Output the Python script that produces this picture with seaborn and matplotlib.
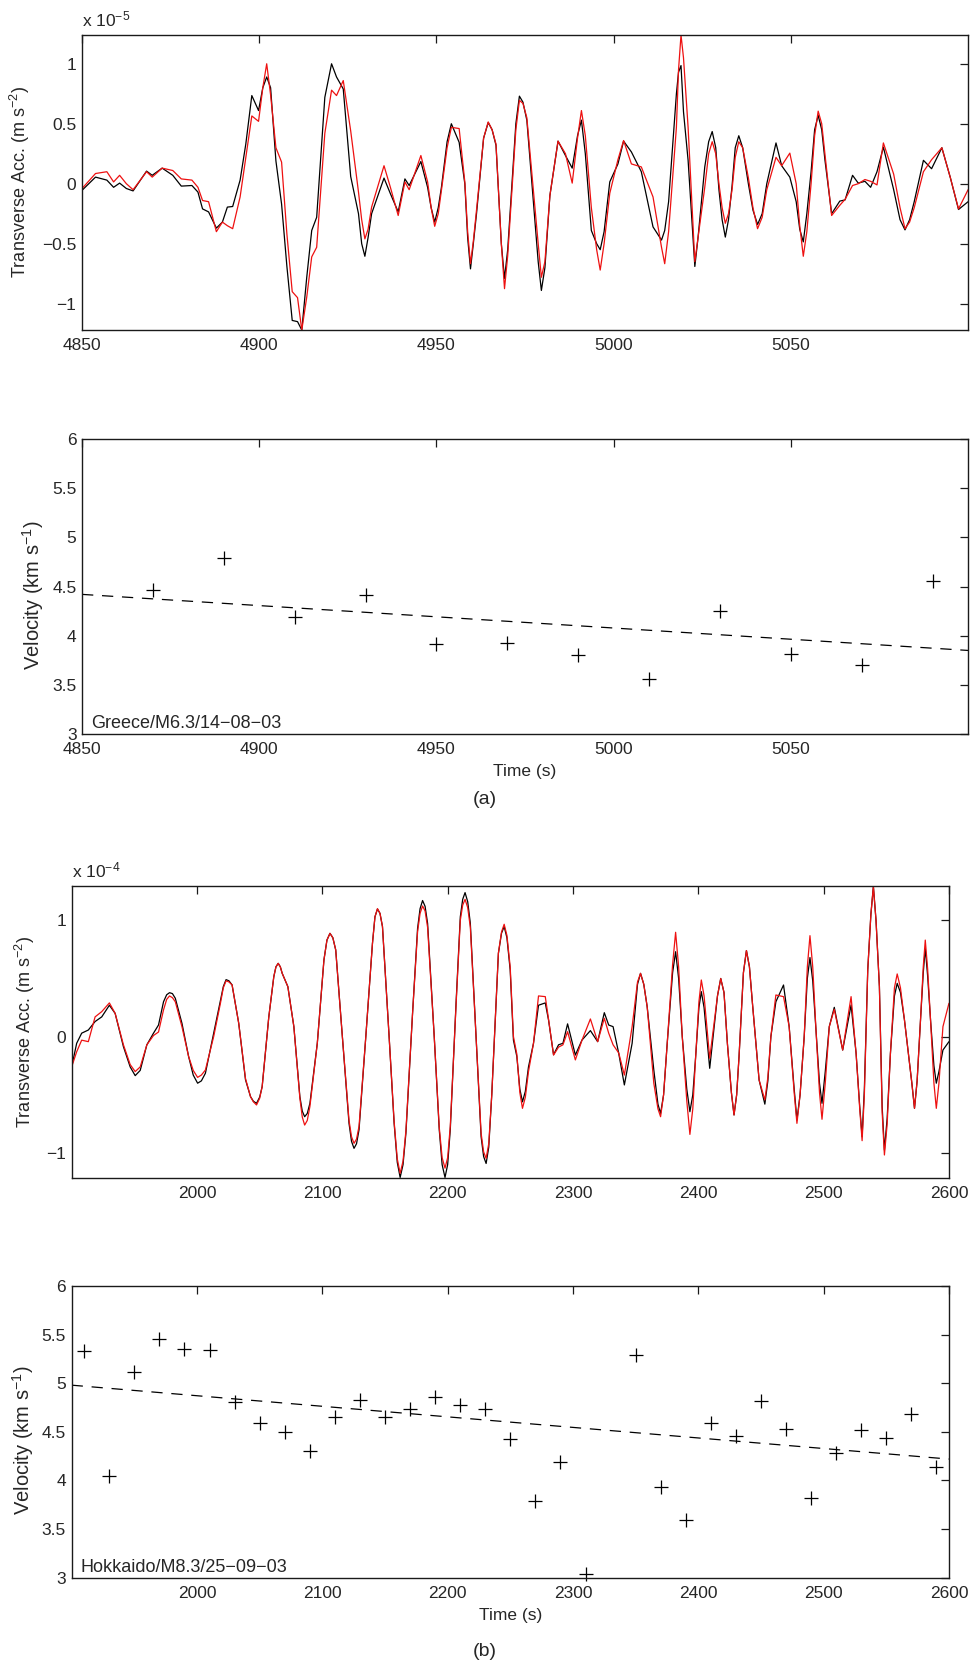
import numpy as np
import pandas as pd
import matplotlib
matplotlib.use("Agg")
import matplotlib.pyplot as plt
import seaborn as sns

# ---------------- data ----------------
# Panel (a) top: transverse acceleration, units of 1e-5 m s^-2
t_a = [4850, 4853.8, 4857, 4858.9, 4860.6, 4862.5, 4864.4, 4868.2, 4869.8, 4872.6,
       4875.6, 4878, 4881, 4882.7, 4884, 4885.7, 4887.9, 4889.6, 4891, 4892.5,
       4894.6, 4896.2, 4897.9, 4899.8, 4902.1, 4903.2, 4904.7, 4906.3, 4907.8, 4909.3,
       4910.8, 4912, 4913.4, 4914.8, 4916.2, 4918.5, 4920.4, 4921.8, 4923.7, 4925.8,
       4928, 4929.8, 4931.7, 4935.2, 4937, 4939.2, 4941.1, 4942.3, 4945.6, 4947.5,
       4949.5, 4951.4, 4954.2, 4956.4, 4958, 4959.6, 4961.3, 4964.6, 4966.8, 4969.2,
       4971.3, 4973.4, 4975.5, 4977.6, 4979.6, 4982, 4984.3, 4986.4, 4988.3, 4990.9,
       4993.7, 4996.2, 4998.9, 5001.2, 5002.8, 5005, 5007.8, 5011.1, 5013.5, 5014.4,
       5015.5, 5017.7, 5019, 5021, 5022.9, 5025.7, 5027.8, 5029.7, 5031.5, 5033.4,
       5035.3, 5038, 5040.6, 5043.2, 5045.8, 5047.4, 5049.7, 5051.5, 5053.5, 5055.7,
       5057.7, 5059.6, 5061.5, 5063.8, 5065.3, 5067.4, 5069, 5070.9, 5072.5, 5074.3,
       5076.1, 5079, 5082.2, 5084.8, 5087.4, 5089.7, 5092.6, 5095, 5097.3, 5100]
acc_a_obs = [-0.055, 0.055, 0.03, -0.03, 0.005, -0.04, -0.06, 0.105, 0.07, 0.13,
             0.07, -0.02, -0.015, -0.07, -0.21, -0.235, -0.37, -0.32, -0.195, -0.19,
             0.03, 0.33, 0.735, 0.61, 0.89, 0.80, 0.19, -0.17, -0.69, -1.14,
             -1.15, -1.22, -0.78, -0.39, -0.28, 0.72, 1.0, 0.89, 0.79, 0.06,
             -0.25, -0.605, -0.25, 0.047, -0.083, -0.235, 0.04, -0.015, 0.185, -0.03,
             -0.32, -0.03, 0.50, 0.345, 0.0, -0.71, -0.25, 0.51, 0.32, -0.79,
             0.0, 0.73, 0.53, -0.25, -0.89, -0.1, 0.355, 0.235, 0.13, 0.53,
             -0.39, -0.55, 0.015, 0.165, 0.355, 0.265, 0.1, -0.36, -0.47, -0.39,
             -0.15, 0.75, 0.985, 0.195, -0.69, 0.14, 0.435, -0.05, -0.445, -0.02,
             0.40, 0.0, -0.34, 0.0, 0.34, 0.15, 0.055, -0.15, -0.485, 0.1,
             0.57, 0.2, -0.25, -0.145, -0.135, 0.07, 0.005, 0.02, -0.03, 0.1,
             0.305, -0.05, -0.385, -0.15, 0.195, 0.125, 0.30, 0.05, -0.215, -0.15]
acc_a_syn = [-0.04, 0.085, 0.10, 0.015, 0.07, 0.0, -0.05, 0.10, 0.055, 0.13,
             0.11, 0.04, 0.03, -0.03, -0.14, -0.15, -0.40, -0.32, -0.35, -0.375,
             -0.11, 0.22, 0.565, 0.52, 1.0, 0.74, 0.30, 0.18, -0.42, -0.90,
             -0.95, -1.22, -0.945, -0.61, -0.53, 0.42, 0.78, 0.735, 0.86, 0.44,
             -0.07, -0.46, -0.195, 0.15, -0.03, -0.265, 0.015, -0.05, 0.235, 0.015,
             -0.355, -0.055, 0.47, 0.46, 0.015, -0.667, -0.22, 0.515, 0.33, -0.875,
             -0.05, 0.695, 0.55, -0.14, -0.78, -0.1, 0.355, 0.25, 0.005, 0.61,
             -0.2, -0.72, -0.08, 0.2, 0.36, 0.165, 0.14, -0.11, -0.53, -0.667,
             -0.4, 0.47, 1.24, 0.47, -0.65, -0.03, 0.35, 0.0, -0.33, -0.05,
             0.35, 0.05, -0.375, -0.05, 0.22, 0.15, 0.255, 0.0, -0.605, 0.0,
             0.605, 0.25, -0.265, -0.18, -0.13, -0.015, 0.0, 0.035, 0.02, -0.01,
             0.34, 0.08, -0.375, -0.2, 0.1, 0.2, 0.30, 0.05, -0.21, -0.05]
# extra samples read near the peaks and troughs of panel (a)
t_a_more = [4901.0, 4928.9, 4930.7, 4948.5, 4950.5, 4953.0, 4958.8, 4960.4, 4963.3, 4965.7,
            4968.3, 4970.1, 4972.4, 4974.4, 4978.7, 4980.6, 4989.8, 4992.0, 4995.2, 4997.3,
            5018.3, 5019.7, 5023.8, 5026.8, 5028.8, 5030.6, 5032.4, 5034.3, 5036.4, 5039.3,
            5041.9, 5052.5, 5054.5, 5056.7, 5058.7, 5080.8, 5083.5]
acc_a_obs_more = [0.80, -0.50, -0.45, -0.20, -0.20, 0.35, -0.45, -0.50, 0.38, 0.45,
                  -0.50, -0.55, 0.50, 0.68, -0.65, -0.70, 0.40, 0.25, -0.50, -0.40,
                  0.93, 0.60, -0.45, 0.35, 0.30, -0.30, -0.30, 0.30, 0.30, -0.22,
                  -0.25, -0.38, -0.25, 0.45, 0.45, -0.30, -0.30]
acc_a_syn_more = [0.80, -0.30, -0.38, -0.20, -0.25, 0.30, -0.40, -0.48, 0.38, 0.45,
                  -0.50, -0.60, 0.45, 0.67, -0.50, -0.65, 0.38, 0.40, -0.55, -0.50,
                  0.95, 1.05, -0.45, 0.25, 0.25, -0.20, -0.25, 0.22, 0.30, -0.20,
                  -0.28, -0.35, -0.40, 0.40, 0.50, -0.20, -0.32]

# Panel (a) bottom: group velocity
t_vel_a = [4870, 4890, 4910, 4930, 4950, 4970, 4990, 5010, 5030, 5050, 5070, 5090]
vel_a = [4.46, 4.79, 4.19, 4.41, 3.92, 3.93, 3.80, 3.56, 4.25, 3.81, 3.70, 4.56]
trend_t_a = [4850, 5100]
trend_v_a = [4.42, 3.85]

# Panel (b) top: transverse acceleration, units of 1e-4 m s^-2
t_b = [1900, 1904, 1908, 1913.3, 1918.7, 1924, 1930.1, 1934.7, 1941.3, 1946.7,
       1950.7, 1954.7, 1960, 1965.3, 1969.3, 1973.3, 1978.1, 1982.7, 1988, 1993.3,
       2000.5, 2006.7, 2013.3, 2018.7, 2023.2, 2028, 2033.3, 2038.7, 2042.7, 2047.5,
       2052, 2057.3, 2061.3, 2064.8, 2068, 2072.5, 2077.3, 2082.1, 2085.9, 2090.1,
       2096, 2101.3, 2106.1, 2110.7, 2116, 2121.3, 2125.3, 2129.3, 2134.7, 2140,
       2144, 2148, 2153.3, 2157.3, 2162.1, 2166.7, 2172, 2176, 2180, 2184,
       2189.3, 2193.3, 2197.9, 2202.1, 2206.7, 2210.1, 2213.9, 2218.1, 2222.7, 2226.7,
       2230.7, 2235.2, 2240.5, 2245.1, 2249.9, 2252.5, 2255.2, 2259.7, 2264.5, 2268.5,
       2272.5, 2277.9, 2280.5, 2284.5, 2288.5, 2292, 2295.7, 2301.9, 2307.2, 2313.9,
       2319.7, 2325, 2328.5, 2332, 2336.5, 2341, 2347.2, 2353.9, 2359.2, 2364.5,
       2369.9, 2375.2, 2381.9, 2387.2, 2393.3, 2397.9, 2402.4, 2409.1, 2417.9, 2423.2,
       2428.5, 2432.5, 2438.4, 2443.2, 2448.5, 2453.1, 2457.9, 2461.9, 2468, 2472.5,
       2478.7, 2484.5, 2489.1, 2493.9, 2498.7, 2504.5, 2508.5, 2515.2, 2521.9, 2525.9,
       2530.7, 2535.2, 2539.7, 2544.5, 2548.5, 2553.3, 2558.7, 2564.5, 2572.5, 2577.3,
       2581.1, 2585.3, 2589.9, 2595.2, 2600]
acc_b_obs = [-0.26, -0.057, 0.03, 0.057, 0.13, 0.17, 0.27, 0.2, -0.086, -0.26,
             -0.335, -0.29, -0.07, 0.03, 0.1, 0.3, 0.378, 0.33, 0.115, -0.17,
             -0.40, -0.315, 0.03, 0.315, 0.49, 0.445, 0.115, -0.37, -0.515, -0.573,
             -0.43, 0.17, 0.516, 0.63, 0.544, 0.43, 0.086, -0.516, -0.688, -0.573,
             -0.057, 0.66, 0.888, 0.745, 0.0, -0.745, -0.96, -0.80, 0.0, 0.80,
             1.097, 0.946, 0.0, -0.745, -1.21, -0.83, 0.2, 0.93, 1.17, 0.974,
             0.0, -0.80, -1.21, -0.80, 0.287, 1.03, 1.238, 0.974, 0.0, -0.86,
             -1.09, -0.5, 0.716, 0.946, 0.573, -0.03, -0.17, -0.56, -0.26, -0.057,
             0.27, 0.29, 0.143, -0.155, -0.07, -0.057, 0.11, -0.158, -0.029, 0.052,
             -0.043, 0.206, 0.1, 0.086, -0.143, -0.415, -0.057, 0.544, 0.258, -0.287,
             -0.66, -0.057, 0.73, 0.0, -0.645, -0.17, 0.387, -0.272, 0.5, -0.057,
             -0.673, -0.172, 0.74, 0.287, -0.372, -0.58, 0.0, 0.3, 0.444, 0.086,
             -0.716, 0.0, 0.68, 0.057, -0.573, 0.086, 0.252, -0.115, 0.272, -0.143,
             -0.86, 0.573, 1.29, 0.43, -0.975, -0.143, 0.458, 0.143, -0.616, 0.143,
             0.76, 0.143, -0.40, -0.115, -0.043]
acc_b_syn = [-0.26, -0.13, -0.03, -0.043, 0.17, 0.215, 0.29, 0.2, -0.07, -0.24,
             -0.30, -0.26, -0.07, 0.01, 0.04, 0.23, 0.35, 0.30, 0.086, -0.17,
             -0.35, -0.287, 0.0, 0.287, 0.48, 0.445, 0.115, -0.36, -0.516, -0.587,
             -0.43, 0.17, 0.516, 0.63, 0.544, 0.43, 0.086, -0.53, -0.76, -0.6,
             -0.057, 0.66, 0.888, 0.745, 0.0, -0.72, -0.917, -0.77, 0.0, 0.80,
             1.10, 0.946, 0.0, -0.73, -1.175, -0.81, 0.2, 0.90, 1.123, 0.94,
             0.0, -0.78, -1.13, -0.77, 0.27, 1.0, 1.18, 0.94, 0.0, -0.83,
             -1.046, -0.5, 0.72, 0.966, 0.6, 0.0, -0.15, -0.616, -0.3, -0.057,
             0.35, 0.344, 0.15, -0.158, -0.09, -0.07, 0.043, -0.2, -0.03, 0.152,
             -0.043, 0.158, 0.03, -0.07, -0.14, -0.33, 0.086, 0.544, 0.258, -0.40,
             -0.688, -0.057, 0.897, 0.0, -0.84, -0.17, 0.487, -0.186, 0.5, -0.057,
             -0.673, -0.172, 0.74, 0.287, -0.372, -0.544, 0.0, 0.358, 0.344, 0.086,
             -0.745, 0.0, 0.868, 0.057, -0.71, 0.086, 0.235, -0.115, 0.344, -0.143,
             -0.894, 0.573, 1.29, 0.43, -1.017, -0.143, 0.539, 0.143, -0.616, 0.143,
             0.83, 0.143, -0.616, 0.086, 0.287]
# extra samples read near the peaks and troughs of panel (b)
t_b_more = [1975.8, 1980.4, 1997.0, 2003.5, 2021.0, 2025.5, 2045.0, 2050.0, 2063.0, 2066.5,
            2084.0, 2088.0, 2103.7, 2108.4, 2123.3, 2127.3, 2142.0, 2146.0, 2159.8, 2164.4,
            2178.0, 2182.0, 2195.6, 2200.0, 2212.0, 2216.0, 2228.7, 2232.8, 2243.0, 2247.3,
            2257.6, 2262.0, 2351.5, 2356.5, 2367.8, 2372.3, 2379.5, 2384.3, 2390.8, 2395.6,
            2400.5, 2404.6, 2415.3, 2420.5, 2426.4, 2430.6, 2436.0, 2440.8, 2455.5, 2476.5,
            2481.2, 2487.0, 2491.3, 2496.7, 2501.3, 2528.8, 2532.5, 2537.7, 2541.8, 2546.7,
            2550.7, 2556.5, 2561.3, 2570.4, 2574.6, 2579.5, 2583.0, 2588.0, 2592.0]
acc_b_obs_more = [0.36, 0.37, -0.33, -0.38, 0.43, 0.48, -0.555, -0.52, 0.60, 0.60,
                  -0.64, -0.66, 0.83, 0.85, -0.90, -0.92, 1.03, 1.06, -1.08, -1.10,
                  1.10, 1.12, -1.10, -1.10, 1.18, 1.16, -1.03, -0.95, 0.89, 0.85,
                  -0.45, -0.47, 0.45, 0.45, -0.58, -0.50, 0.55, 0.50, -0.45, -0.50,
                  0.25, 0.25, 0.35, 0.38, -0.48, -0.50, 0.55, 0.60, -0.38, -0.45,
                  -0.50, 0.50, 0.48, -0.40, -0.30, -0.60, -0.45, 1.05, 1.00, -0.60,
                  -0.70, 0.35, 0.38, -0.40, -0.38, 0.55, 0.52, -0.25, -0.30]
acc_b_syn_more = [0.32, 0.335, -0.29, -0.33, 0.42, 0.47, -0.56, -0.53, 0.60, 0.60,
                  -0.69, -0.72, 0.83, 0.85, -0.86, -0.88, 1.03, 1.06, -1.05, -1.07,
                  1.06, 1.08, -1.04, -1.04, 1.13, 1.11, -0.99, -0.92, 0.90, 0.87,
                  -0.48, -0.52, 0.47, 0.45, -0.62, -0.50, 0.62, 0.60, -0.55, -0.62,
                  0.30, 0.35, 0.35, 0.38, -0.48, -0.50, 0.55, 0.60, -0.35, -0.48,
                  -0.50, 0.60, 0.60, -0.48, -0.40, -0.62, -0.50, 1.05, 1.00, -0.65,
                  -0.75, 0.42, 0.42, -0.40, -0.38, 0.60, 0.58, -0.40, -0.40]

# Panel (b) bottom: group velocity
t_vel_b = [1910, 1930, 1950, 1970, 1990, 2010, 2030, 2050, 2070, 2090, 2110, 2130,
           2150, 2170, 2190, 2210, 2230, 2250, 2270, 2290, 2310, 2350, 2370, 2390,
           2410, 2430, 2450, 2470, 2490, 2510, 2530, 2550, 2570, 2590]
vel_b = [5.335, 4.046, 5.12, 5.45, 5.355, 5.345, 4.81, 4.594, 4.498, 4.30, 4.656, 4.827,
         4.656, 4.735, 4.855, 4.773, 4.731, 4.426, 3.792, 4.193, 3.034, 5.294, 3.936, 3.597,
         4.587, 4.461, 4.817, 4.526, 3.82, 4.286, 4.519, 4.433, 4.683, 4.135]
trend_t_b = [1900, 2600]
trend_v_b = [4.98, 4.22]

# Axis ticks / labels
xt_a = [4850, 4900, 4950, 5000, 5050]
xt_b = [2000, 2100, 2200, 2300, 2400, 2500, 2600]
yt_acc = [-1, -0.5, 0, 0.5, 1]
yl_acc = ["\u22121", "\u22120.5", "0", "0.5", "1"]
yt_acc_b = [-1, 0, 1]
yl_acc_b = ["\u22121", "0", "1"]
yt_vel = [3, 3.5, 4, 4.5, 5, 5.5, 6]
yl_vel = ["3", "3.5", "4", "4.5", "5", "5.5", "6"]

# ---------------- tables ----------------
wave_a = pd.DataFrame({"t": t_a + t_a_more,
                       "obs": acc_a_obs + acc_a_obs_more,
                       "syn": acc_a_syn + acc_a_syn_more}).sort_values("t")
wave_b = pd.DataFrame({"t": t_b + t_b_more,
                       "obs": acc_b_obs + acc_b_obs_more,
                       "syn": acc_b_syn + acc_b_syn_more}).sort_values("t")

# ---------------- styling ----------------
sns.set_style("white")
plt.rcParams.update({
    "font.family": ["Liberation Sans", "DejaVu Sans"],
    "mathtext.fontset": "custom",
    "mathtext.rm": "Liberation Sans",
    "mathtext.it": "Liberation Sans:italic",
    "mathtext.bf": "Liberation Sans:bold",
    "mathtext.default": "regular",
    "font.size": 12.5,
    "axes.edgecolor": "#1a1a1a",
    "axes.linewidth": 1.0,
    "lines.solid_joinstyle": "round",
})

FS_TICK = 12.5
FS_ACC = 13
FS_VEL = 14.5
FS_TIME = 12.5
FS_NOTE = 13

fig = plt.figure(figsize=(9.71, 16.66), dpi=100)
ax1 = fig.add_axes([0.0845, 0.8019, 0.9125, 0.1771])
ax2 = fig.add_axes([0.0845, 0.5594, 0.9125, 0.1771])
ax3 = fig.add_axes([0.0738, 0.2929, 0.9035, 0.1753])
ax4 = fig.add_axes([0.0738, 0.0530, 0.9035, 0.1751])


def style(ax):
    for s in ax.spines.values():
        s.set_visible(True)
        s.set_color("#1a1a1a")
        s.set_linewidth(1.0)
    ax.tick_params(direction="in", top=True, right=True, length=6, width=0.9,
                   color="#1a1a1a", labelsize=FS_TICK)
    ax.tick_params(axis="x", pad=6)
    ax.tick_params(axis="y", pad=4)
    ax.grid(False)


def place_ylabel(ax, x, y):
    ax.yaxis.label.set_va("center")
    ax.yaxis.set_label_coords(x, y)


RED = "#ee1111"

# Panel (a) waveforms
sns.lineplot(data=wave_a, x="t", y="obs", color="black", lw=0.9, ax=ax1, sort=False)
sns.lineplot(data=wave_a, x="t", y="syn", color=RED, lw=0.9, ax=ax1, sort=False)
ax1.set_xlim(4850, 5100)
ax1.set_ylim(-1.22, 1.24)
ax1.set_xticks(xt_a)
ax1.set_xticklabels([str(v) for v in xt_a])
ax1.set_yticks(yt_acc)
ax1.set_yticklabels(yl_acc)
ax1.set_xlabel("")
ax1.set_ylabel("Transverse Acc. (m s$^{-2}$)", fontsize=FS_ACC)
place_ylabel(ax1, -0.070, 0.5)
ax1.text(0.0, 1.03, "x 10$^{-5}$", transform=ax1.transAxes, fontsize=FS_TICK,
         ha="left", va="baseline")
style(ax1)

# Panel (a) velocities
sns.lineplot(x=trend_t_a, y=trend_v_a, color="black", lw=0.9, ax=ax2,
             dashes=False, linestyle=(0, (9, 7)))
sns.scatterplot(x=t_vel_a, y=vel_a, marker="+", s=110, color="black",
                linewidth=0.9, ax=ax2)
ax2.set_xlim(4850, 5100)
ax2.set_ylim(3, 6)
ax2.set_xticks(xt_a)
ax2.set_xticklabels([str(v) for v in xt_a])
ax2.set_yticks(yt_vel)
ax2.set_yticklabels(yl_vel)
ax2.set_xlabel("Time (s)", fontsize=FS_TIME, labelpad=5)
ax2.set_ylabel("Velocity (km s$^{-1}$)", fontsize=FS_VEL)
place_ylabel(ax2, -0.055, 0.471)
ax2.text(0.0098, 0.006, "Greece/M6.3/14\u221208\u221203", transform=ax2.transAxes,
         fontsize=FS_NOTE, ha="left", va="bottom")
style(ax2)
fig.text(485 / 971, 1 - 800 / 1666, "(a)", fontsize=14, ha="center", va="center")

# Panel (b) waveforms
sns.lineplot(data=wave_b, x="t", y="obs", color="black", lw=0.9, ax=ax3, sort=False)
sns.lineplot(data=wave_b, x="t", y="syn", color=RED, lw=0.9, ax=ax3, sort=False)
ax3.set_xlim(1900, 2600)
ax3.set_ylim(-1.215, 1.295)
ax3.set_xticks(xt_b)
ax3.set_xticklabels([str(v) for v in xt_b])
ax3.set_yticks(yt_acc_b)
ax3.set_yticklabels(yl_acc_b)
ax3.set_xlabel("")
ax3.set_ylabel("Transverse Acc. (m s$^{-2}$)", fontsize=FS_ACC)
place_ylabel(ax3, -0.0532, 0.5)
ax3.text(0.0, 1.03, "x 10$^{-4}$", transform=ax3.transAxes, fontsize=FS_TICK,
         ha="left", va="baseline")
style(ax3)

# Panel (b) velocities
sns.lineplot(x=trend_t_b, y=trend_v_b, color="black", lw=0.9, ax=ax4,
             dashes=False, linestyle=(0, (9, 7)))
sns.scatterplot(x=t_vel_b, y=vel_b, marker="+", s=110, color="black",
                linewidth=0.9, ax=ax4, clip_on=False)
ax4.set_xlim(1900, 2600)
ax4.set_ylim(3, 6)
ax4.set_xticks(xt_b)
ax4.set_xticklabels([str(v) for v in xt_b])
ax4.set_yticks(yt_vel)
ax4.set_yticklabels(yl_vel)
ax4.set_xlabel("Time (s)", fontsize=FS_TIME, labelpad=5)
ax4.set_ylabel("Velocity (km s$^{-1}$)", fontsize=FS_VEL)
place_ylabel(ax4, -0.0552, 0.4726)
ax4.text(0.0106, 0.006, "Hokkaido/M8.3/25\u221209\u221203", transform=ax4.transAxes,
         fontsize=FS_NOTE, ha="left", va="bottom")
style(ax4)
fig.text(485 / 971, 1 - 1652 / 1666, "(b)", fontsize=14, ha="center", va="center")

fig.savefig("out.png", dpi=100, facecolor="white")
